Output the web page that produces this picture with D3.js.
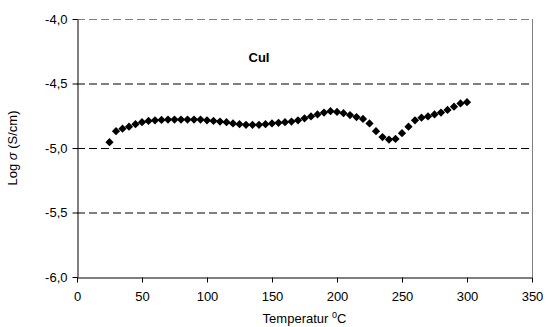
<!DOCTYPE html>
<html>
<head>
<meta charset="utf-8">
<script src="https://cdn.jsdelivr.net/npm/d3@7"></script>
<style>
  html, body { margin: 0; padding: 0; background: #fff; }
  svg { display: block; font-family: "Liberation Sans", Arial, sans-serif; }
</style>
</head>
<body>
<svg id="chart" width="548" height="327"></svg>
<script>
// ---- data ----
const temperatures = [25,30,35,40,45,50,55,60,65,70,75,80,85,90,95,100,105,110,115,120,
  125,130,135,140,145,150,155,160,165,170,175,180,185,190,195,200,205,210,215,220,
  225,230,235,240,245,250,255,260,265,270,275,280,285,290,295,300];
const logSigma = [-4.955,-4.87,-4.85,-4.835,-4.815,-4.80,-4.79,-4.785,-4.782,-4.78,-4.78,-4.78,-4.78,-4.78,-4.78,-4.785,-4.79,-4.795,-4.80,-4.81,
  -4.815,-4.82,-4.82,-4.82,-4.815,-4.81,-4.805,-4.80,-4.795,-4.785,-4.77,-4.755,-4.74,-4.725,-4.715,-4.72,-4.73,-4.745,-4.76,-4.775,
  -4.81,-4.87,-4.915,-4.935,-4.93,-4.885,-4.835,-4.785,-4.765,-4.755,-4.74,-4.725,-4.705,-4.68,-4.655,-4.645];
const xTicks = [0,50,100,150,200,250,300,350];
const yTicks = [-6.0,-5.5,-5.0,-4.5,-4.0];
const gridValues = [-5.5,-5.0,-4.5,-4.0];
const titleText = "CuI";
const xLabel = "Temperatur ";

// ---- layout ----
const svg = d3.select("#chart");
const pLeft = 77, pRight = 532, pTop = 19, pBottom = 277;

const x = d3.scaleLinear().domain([0, 350]).range([pLeft, pRight]);
const y = d3.scaleLinear().domain([-6, -4]).range([pBottom, pTop]);

// gridlines
svg.append("g").selectAll("line").data(gridValues).join("line")
  .attr("x1", pLeft).attr("x2", pRight)
  .attr("y1", d => y(d) + 0.5).attr("y2", d => y(d) + 0.5)
  .attr("stroke", d => d === -4.0 ? "#808080" : "#000")
  .attr("stroke-width", 1)
  .attr("stroke-dasharray", "8,4");

// right border
svg.append("line")
  .attr("x1", pRight + 0.5).attr("x2", pRight + 0.5)
  .attr("y1", pTop).attr("y2", pBottom)
  .attr("stroke", "#808080").attr("stroke-width", 1);

const fmt = d => d3.format(".1f")(d).replace(".", ",").replace("−", "-");

// axes
const xAxis = d3.axisBottom(x).tickValues(xTicks).tickSize(5).tickSizeOuter(0).tickPadding(9)
  .tickFormat(d3.format("d"));
const gx = svg.append("g").attr("transform", `translate(0,${pBottom + 0.5})`).call(xAxis);
gx.select(".domain").attr("stroke", "#000");
gx.selectAll(".tick line").attr("stroke", "#000");
gx.selectAll(".tick text").attr("font-size", 13).attr("fill", "#000")
  .attr("font-family", "'Liberation Sans', Arial, sans-serif");

const yAxis = d3.axisLeft(y).tickValues(yTicks).tickSize(5).tickSizeOuter(0).tickPadding(5)
  .tickFormat(fmt);
const gy = svg.append("g").attr("transform", `translate(${pLeft + 0.5},0)`).call(yAxis);
gy.select(".domain").attr("stroke", "#000");
gy.selectAll(".tick line").attr("stroke", "#000");
gy.selectAll(".tick text").attr("font-size", 13).attr("fill", "#000")
  .attr("font-family", "'Liberation Sans', Arial, sans-serif");

// markers (rotated squares = diamonds)
const diamond = d3.symbol().type(d3.symbolSquare).size(34);
svg.append("g").selectAll("path").data(temperatures.map((t, i) => [t, logSigma[i]])).join("path")
  .attr("d", diamond)
  .attr("transform", d => `translate(${x(d[0])},${y(d[1])}) rotate(45)`)
  .attr("fill", "#000");

// title
svg.append("text")
  .attr("x", 259).attr("y", 62)
  .attr("text-anchor", "middle")
  .attr("font-size", 13).attr("font-weight", "bold")
  .text(titleText);

// x label
const xl = svg.append("text")
  .attr("x", (pLeft + pRight) / 2).attr("y", 323)
  .attr("text-anchor", "middle")
  .attr("font-size", 13);
xl.append("tspan").text(xLabel);
xl.append("tspan").attr("dy", -5).attr("font-size", 9).text("0");
xl.append("tspan").attr("dy", 5).text("C");

// y label
const yl = svg.append("text")
  .attr("transform", `translate(17,${(pTop + pBottom) / 2}) rotate(-90)`)
  .attr("text-anchor", "middle")
  .attr("font-size", 13);
yl.append("tspan").text("Log ");
yl.append("tspan").attr("font-style", "italic").text("σ");
yl.append("tspan").text(" (S/cm)");
</script>
</body>
</html>
